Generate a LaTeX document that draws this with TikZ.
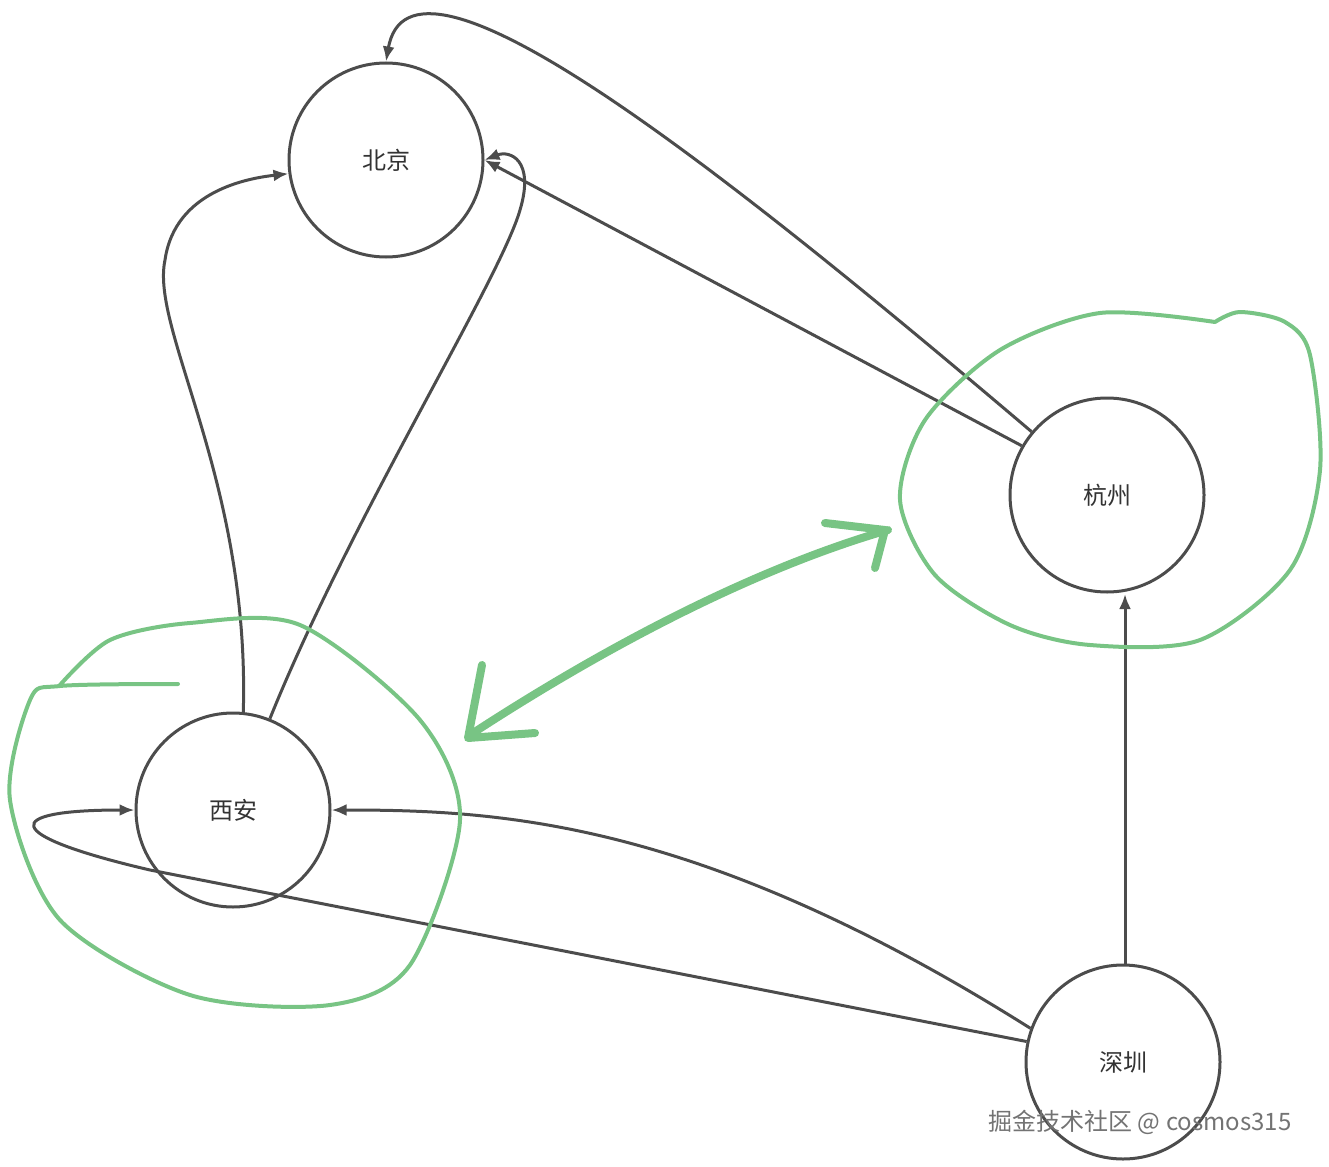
\documentclass[tikz,border=0pt]{standalone}
\usepackage{fontspec}
\setmainfont{Noto Sans CJK SC}
\usetikzlibrary{arrows.meta}
\begin{document}
\begin{tikzpicture}[x=1pt,y=-1pt,
 city/.style={circle,draw=black!70,line width=3pt,minimum size=194pt,inner sep=0pt,font=\fontsize{24}{28}\selectfont,text=black!80},
 edge/.style={draw=black!70,line width=3pt,-{Latex[length=15pt,width=12pt]}},
 green/.style={color={rgb,255:red,120;green,196;blue,132},line width=4pt,line cap=round,line join=round}]
\useasboundingbox (0,0) rectangle (1329,1166);
\node[city] (bj) at (386,160) {北京};
\node[city] (hz) at (1107,495) {杭州};
\node[city] (xa) at (233,810) {西安};
\node[city] (sz) at (1123,1062) {深圳};
\coordinate (hzb) at (1125,594);
\coordinate (szt) at (1125,965);
\draw[edge] (hz.150) -- (bj.east);
\draw[edge] (hz.140) .. controls (700,150) and (410,-75) .. (bj.north);
\draw[edge] (xa.84) .. controls (250,480) and (150,330) .. (165,260) .. controls (175,190) and (250,178) .. (bj.188);
\draw[edge] (xa.68) .. controls (350,520) and (500,280) .. (520,210) .. controls (535,160) and (510,150) .. (bj.east);
\draw[edge] (szt) -- (hzb);
\draw[edge] (sz.160) .. controls (700,820) and (500,810) .. (xa.east);
\draw[edge] (sz.168) -- (150,870) .. controls (0,835) and (0,810) .. (xa.west);
\draw[green] plot[smooth] coordinates {(178,684) (60,686) (30,700) (10,800) (60,920) (190,995) (330,1005) (410,965) (460,820) (420,720) (300,625) (190,623) (110,640) (60,685)};
\draw[green] plot[smooth] coordinates {(1215,322) (1100,313) (1000,350) (925,420) (900,500) (935,575) (1010,625) (1090,645) (1200,640) (1290,570) (1320,470) (1310,355) (1285,322) (1240,312) (1215,322)};
\draw[green,line width=8pt] (470,735) .. controls (600,650) and (750,570) .. (888,530);
\draw[green,line width=8pt] (482,665) -- (468,738) -- (535,733);
\draw[green,line width=8pt] (825,523) -- (885,530) -- (875,568);
\node[text=black!55,font=\fontsize{24}{28}\selectfont] (wm) at (1140,1122) {掘金技术社区 @ cosmos315};
\end{tikzpicture}
\end{document}
